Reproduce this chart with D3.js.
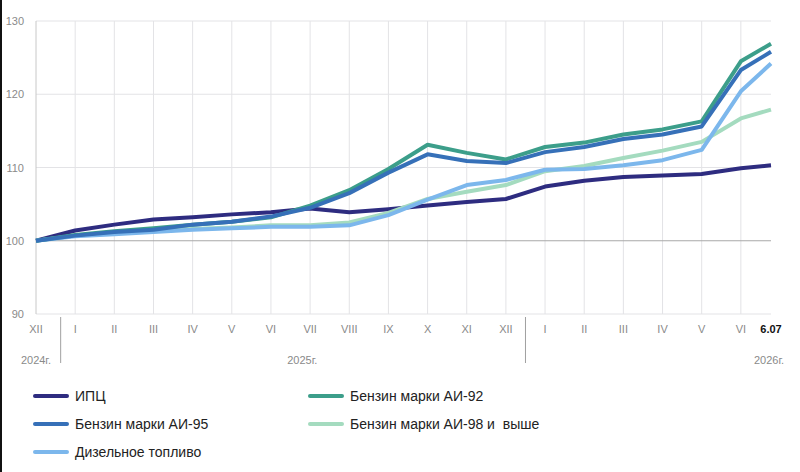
<!DOCTYPE html>
<html>
<head>
<meta charset="utf-8">
<script src="https://cdn.jsdelivr.net/npm/d3@7"></script>
<style>
  body { margin: 0; background: #fff; }
  svg { display: block; font-family: 'Liberation Sans', Arial, sans-serif; }
</style>
</head>
<body>
<div id="chart"></div>
<script>
'use strict';

// x positions in months from XII 2024 (last point is 6 July 2026)
const monthPos = [0, 1, 2, 3, 4, 5, 6, 7, 8, 9, 10, 11, 12, 13, 14, 15, 16, 17, 18, 18.77];
const monthLabels = ['XII', 'I', 'II', 'III', 'IV', 'V', 'VI', 'VII', 'VIII', 'IX', 'X', 'XI', 'XII',
                     'I', 'II', 'III', 'IV', 'V', 'VI', '6.07'];
const yearLabels = ['2024г.', '2025г.', '2026г.'];
const yearPos = [0, 6.8, 18.72];
const yearBreaks = [0.63, 12.5];
const yTicks = [90, 100, 110, 120, 130];

const seriesNames = ['ИПЦ', 'Бензин марки АИ-92', 'Бензин марки АИ-95', 'Бензин марки АИ-98 и  выше', 'Дизельное топливо'];
const cpi   = [100, 101.4, 102.2, 102.9, 103.2, 103.6, 103.9, 104.4, 103.9, 104.3, 104.8, 105.3, 105.7, 107.4, 108.2, 108.7, 108.9, 109.1, 109.9, 110.3];
const ai92  = [100, 100.8, 101.3, 101.7, 102.2, 102.6, 103.2, 104.8, 106.9, 109.8, 113.1, 112.0, 111.1, 112.8, 113.4, 114.5, 115.2, 116.3, 124.5, 126.9];
const ai95  = [100, 100.7, 101.2, 101.5, 102.2, 102.6, 103.3, 104.5, 106.5, 109.3, 111.8, 110.9, 110.6, 112.1, 112.8, 113.9, 114.5, 115.6, 123.3, 125.8];
const ai98  = [100, 100.7, 101.1, 101.3, 101.6, 101.8, 102.1, 102.1, 102.5, 103.8, 105.7, 106.7, 107.6, 109.5, 110.2, 111.3, 112.3, 113.5, 116.7, 117.9];
const diesel = [100, 100.6, 100.9, 101.2, 101.5, 101.7, 101.9, 101.9, 102.1, 103.5, 105.6, 107.6, 108.3, 109.7, 109.8, 110.3, 111.0, 112.4, 120.4, 124.2];

const seriesValues = [cpi, ai92, ai95, ai98, diesel];
const colors = ['#2e2c80', '#3c9e8a', '#3670b8', '#a4dbbf', '#7cb7ec'];
// drawing order (back to front)
const drawOrder = [0, 3, 4, 1, 2];

const width = 800, height = 472;
const svg = d3.select('#chart').append('svg').attr('width', width).attr('height', height);

const x = d3.scaleLinear().domain([0, 18.77]).range([36, 771]);
const y = d3.scaleLinear().domain([90, 130]).range([314, 21]);

// left frame line of the picture
svg.append('line').attr('x1', 1).attr('x2', 1).attr('y1', 0).attr('y2', height)
  .attr('stroke', '#111').attr('stroke-width', 2);

// vertical grid
svg.append('g').selectAll('line').data(monthPos.slice(1, 19)).join('line')
  .attr('x1', d => x(d)).attr('x2', d => x(d))
  .attr('y1', y(130)).attr('y2', y(90))
  .attr('stroke', '#e3e3e6').attr('stroke-width', 1);

// horizontal grid
svg.append('g').selectAll('line').data(yTicks).join('line')
  .attr('x1', x(0)).attr('x2', x(18.77))
  .attr('y1', d => y(d)).attr('y2', d => y(d))
  .attr('stroke', d => d === 100 ? '#a8a8a8' : '#e3e3e6').attr('stroke-width', 1);

// left axis line
svg.append('line').attr('x1', x(0)).attr('x2', x(0)).attr('y1', y(130)).attr('y2', y(90))
  .attr('stroke', '#c8c8c8');

// y labels
svg.append('g').selectAll('text').data(yTicks).join('text')
  .attr('x', 24).attr('y', d => y(d) + 4)
  .attr('text-anchor', 'end').attr('font-size', 11).attr('fill', '#8a8a8a')
  .text(d => d);

// month labels
svg.append('g').selectAll('text').data(monthLabels).join('text')
  .attr('x', (d, i) => x(monthPos[i])).attr('y', 333)
  .attr('text-anchor', 'middle').attr('font-size', 11)
  .attr('fill', (d, i) => i === 19 ? '#111' : '#8a8a8a')
  .attr('font-weight', (d, i) => i === 19 ? 'bold' : 'normal')
  .text(d => d);

// year labels
svg.append('g').selectAll('text').data(yearLabels).join('text')
  .attr('x', (d, i) => x(yearPos[i])).attr('y', 364)
  .attr('text-anchor', 'middle').attr('font-size', 11).attr('fill', '#8a8a8a')
  .text(d => d);

// year separators
svg.append('g').selectAll('line').data(yearBreaks).join('line')
  .attr('x1', d => x(d)).attr('x2', d => x(d))
  .attr('y1', 317).attr('y2', 363)
  .attr('stroke', '#a0a0a0').attr('stroke-width', 1);

// lines
const line = d3.line()
  .x((d, i) => x(monthPos[i]))
  .y(d => y(d));

svg.append('g').selectAll('path').data(drawOrder).join('path')
  .attr('fill', 'none')
  .attr('stroke', k => colors[k])
  .attr('stroke-width', 4)
  .attr('stroke-linejoin', 'round')
  .attr('d', k => line(seriesValues[k]));

// legend
const legendPos = [[35, 396], [310, 396], [35, 424], [310, 424], [35, 452]];
const legend = svg.append('g').selectAll('g').data(seriesNames).join('g')
  .attr('transform', (d, i) => `translate(${legendPos[i][0]},${legendPos[i][1]})`);
legend.append('line').attr('x1', 0).attr('x2', 32).attr('y1', 0).attr('y2', 0)
  .attr('stroke', (d, i) => colors[i]).attr('stroke-width', 4).attr('stroke-linecap', 'round');
legend.append('text').attr('x', 40).attr('y', 5)
  .attr('font-size', 14).attr('fill', '#222')
  .style('white-space', 'pre')
  .text(d => d);
</script>
</body>
</html>
